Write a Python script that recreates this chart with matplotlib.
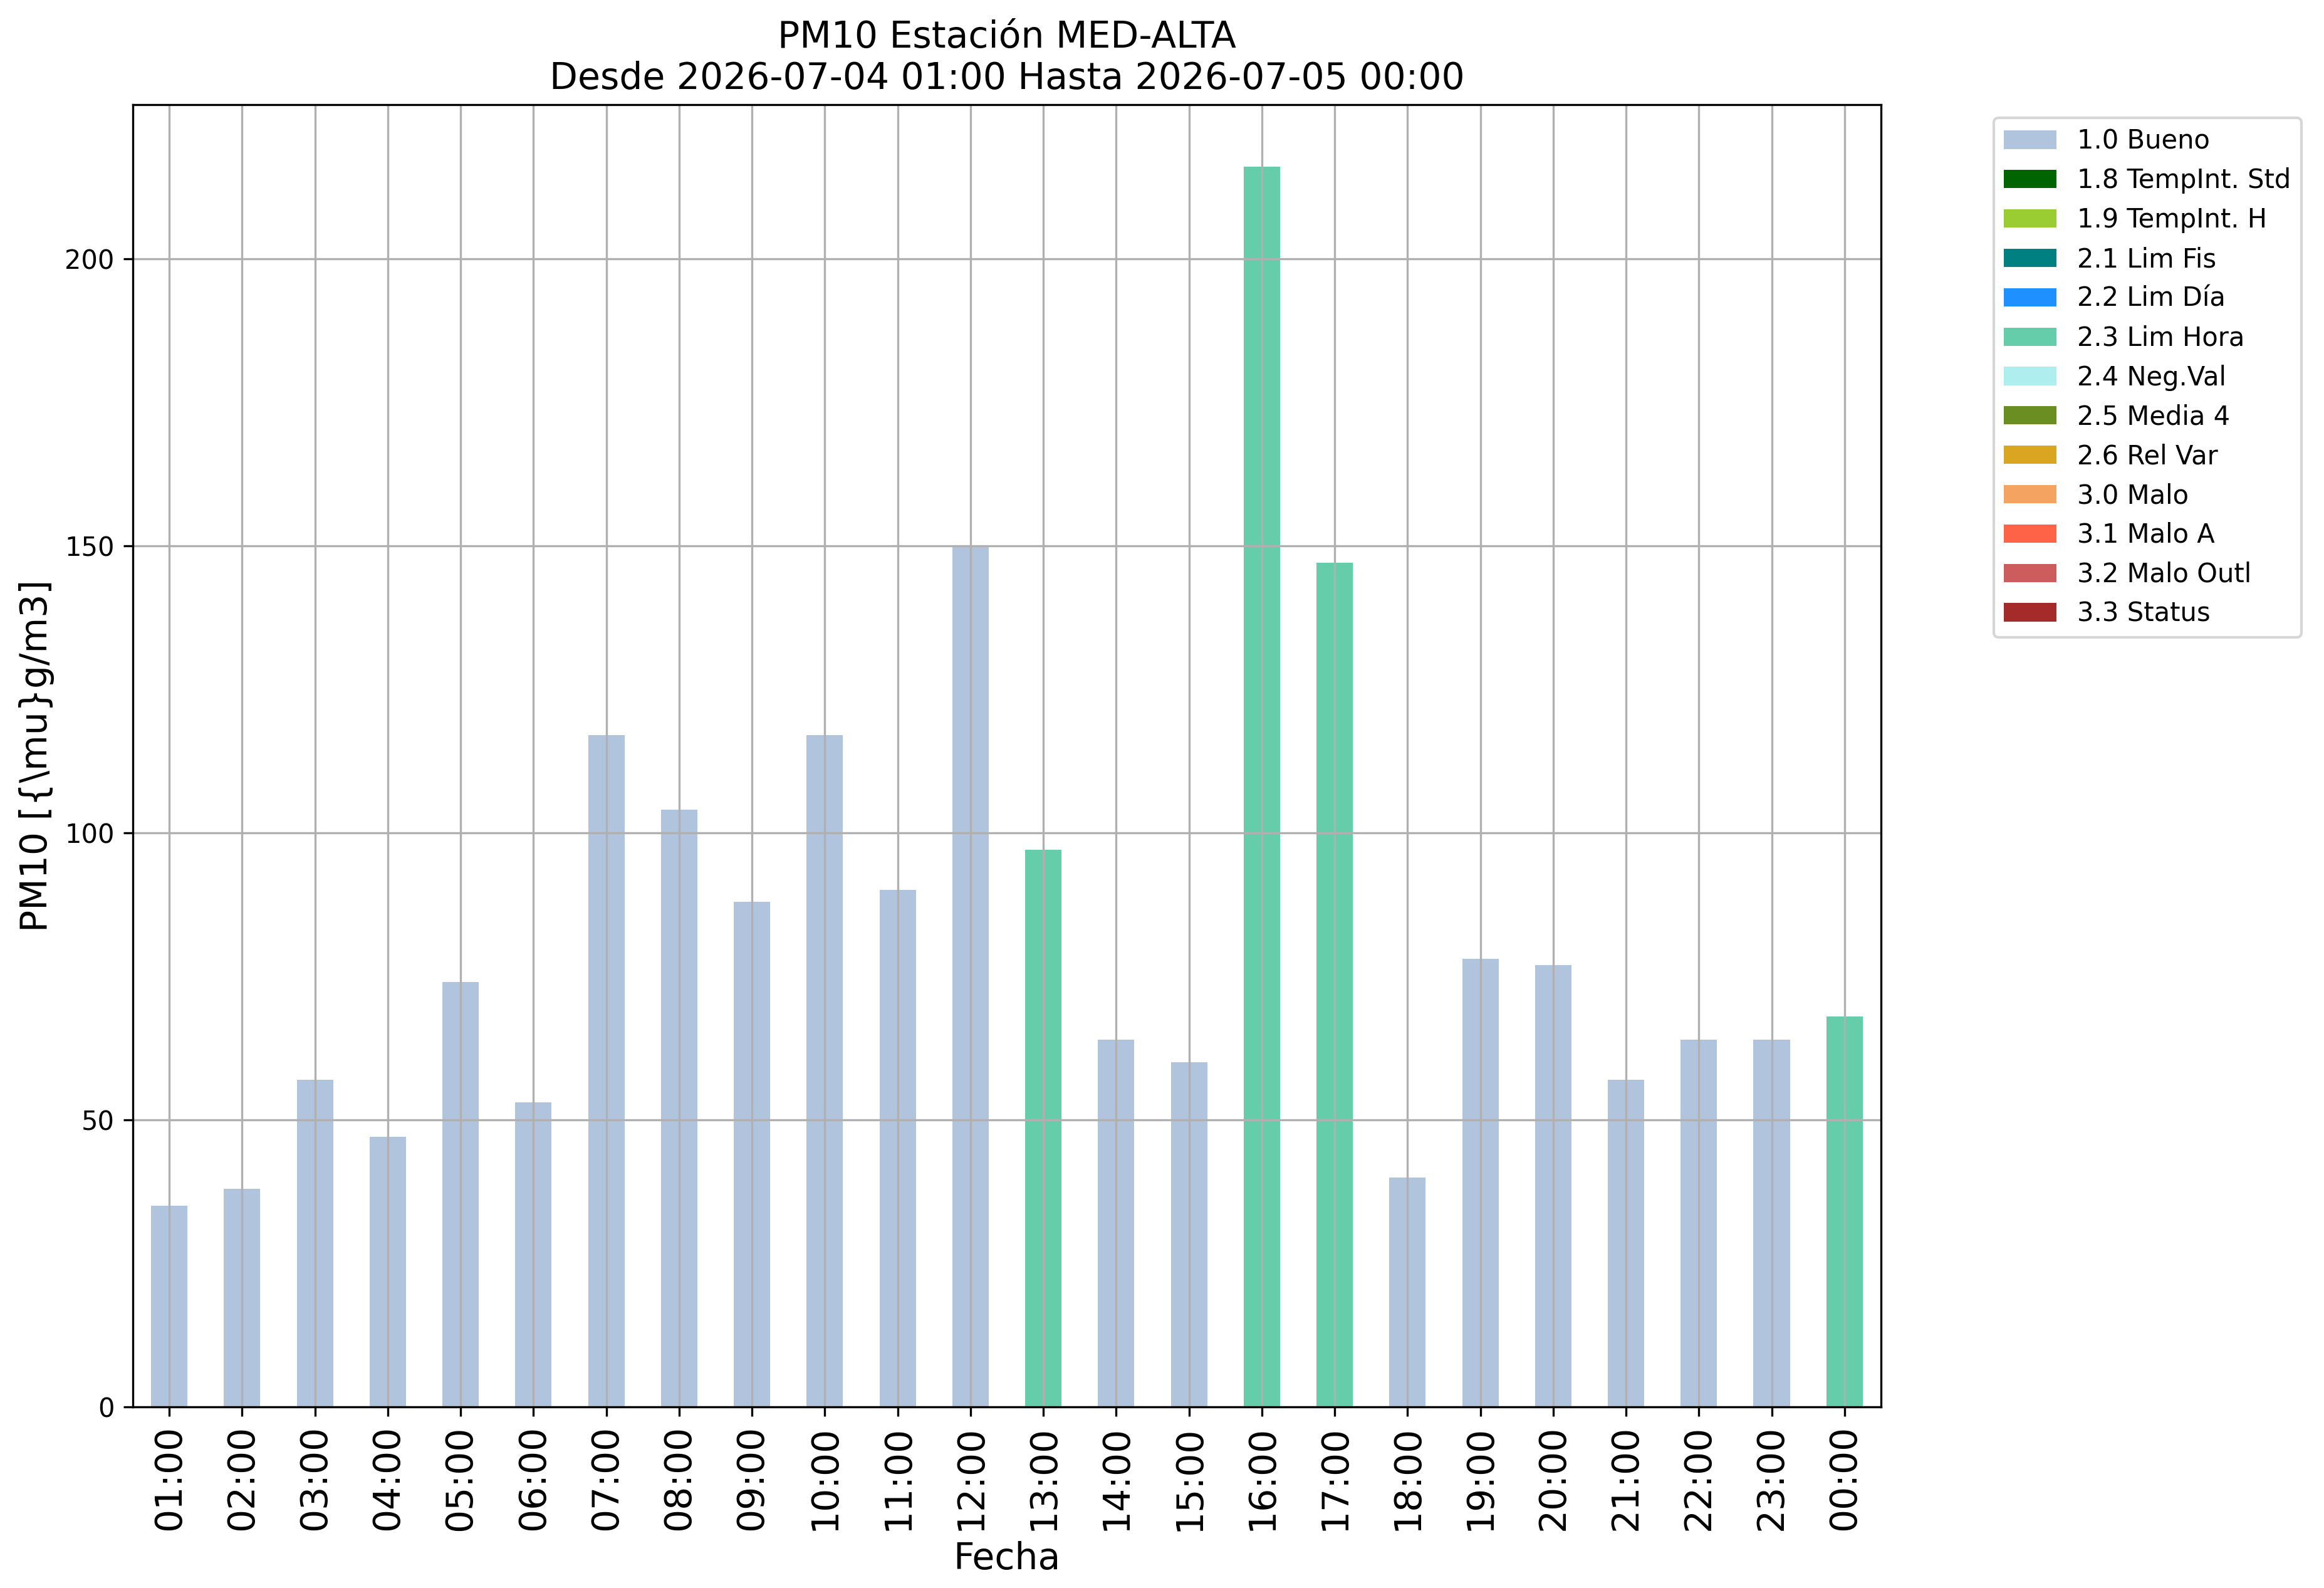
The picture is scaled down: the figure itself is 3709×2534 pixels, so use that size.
import numpy as np
import matplotlib
matplotlib.use('Agg')
import matplotlib.pyplot as plt
from matplotlib.ticker import MultipleLocator

# hourly PM10 values and the validation flag of each hour
horas = ['01:00', '02:00', '03:00', '04:00', '05:00', '06:00', '07:00', '08:00',
         '09:00', '10:00', '11:00', '12:00', '13:00', '14:00', '15:00', '16:00',
         '17:00', '18:00', '19:00', '20:00', '21:00', '22:00', '23:00', '00:00']
pm10 = [35, 38, 57, 47, 74, 53, 117, 104, 88, 117, 90, 150,
        97, 64, 60, 216, 147, 40, 78, 77, 57, 64, 64, 68]
flags = ['1.0', '1.0', '1.0', '1.0', '1.0', '1.0', '1.0', '1.0', '1.0', '1.0', '1.0', '1.0',
         '2.3', '1.0', '1.0', '2.3', '2.3', '1.0', '1.0', '1.0', '1.0', '1.0', '1.0', '2.3']

# flag codes, legend names and colours
codigos = ['1.0', '1.8', '1.9', '2.1', '2.2', '2.3', '2.4', '2.5', '2.6', '3.0', '3.1', '3.2', '3.3']
nombres = ['1.0 Bueno', '1.8 TempInt. Std', '1.9 TempInt. H', '2.1 Lim Fis', '2.2 Lim Día',
           '2.3 Lim Hora', '2.4 Neg.Val', '2.5 Media 4', '2.6 Rel Var', '3.0 Malo',
           '3.1 Malo A', '3.2 Malo Outl', '3.3 Status']
colores = ['lightsteelblue', 'darkgreen', 'yellowgreen', 'teal', 'dodgerblue',
           'mediumaquamarine', 'paleturquoise', 'olivedrab', 'goldenrod', 'sandybrown',
           'tomato', 'indianred', 'brown']

fig = plt.figure(figsize=(3709 / 300, 2534 / 300), dpi=300)
ax = fig.add_axes([0.05716, 0.11405, 0.7522, 0.8200])

x = np.arange(len(horas))
valores = np.array(pm10, dtype=float)
base = np.zeros(len(horas))
for cod, nom, col in zip(codigos, nombres, colores):
    # stacked like pandas: each flag is its own column, zero where it does not apply
    serie = np.where(np.array(flags) == cod, valores, 0.0)
    ax.bar(x, serie, width=0.5, bottom=base, color=col, label=nom)
    base += serie

ax.set_xlim(-0.5, len(horas) - 0.5)
ax.set_ylim(0, 1.05 * max(pm10))
ax.yaxis.set_major_locator(MultipleLocator(50))
ax.set_xticks(x)
ax.set_xticklabels(horas, rotation=90, fontsize=14)
ax.tick_params(axis='y', labelsize=10)
ax.grid(True)
ax.set_xlabel('Fecha', fontsize=14)
ax.set_ylabel('PM10 [{\\mu}g/m3]', fontsize=14)
ax.set_title('PM10 Estación MED-ALTA\nDesde 2026-07-04 01:00 Hasta 2026-07-05 00:00', fontsize=14)
ax.legend(bbox_to_anchor=(1.057, 1), loc='upper left', fontsize=10)

fig.savefig('out.png', dpi=300)
